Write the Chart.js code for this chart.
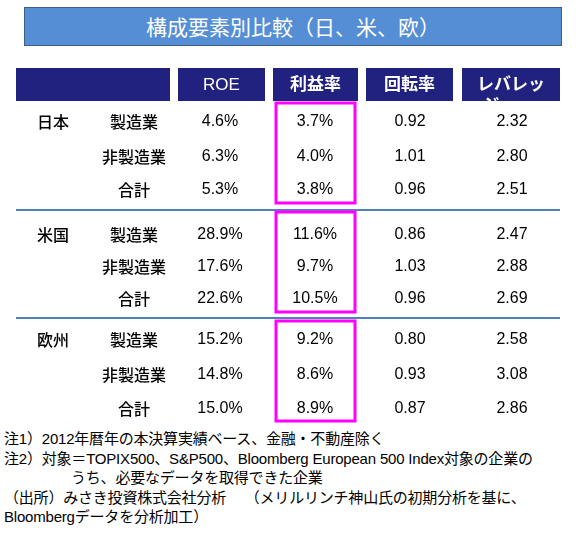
<!DOCTYPE html>
<html><head><meta charset="utf-8">
<script src="https://cdn.jsdelivr.net/npm/chart.js@4"></script>
<style>
body{margin:0;width:576px;height:533px;background:#fff;position:relative;overflow:hidden;font-family:"Liberation Sans","Noto Sans CJK JP",sans-serif;}
#title{position:absolute;left:24px;top:7px;width:536px;height:37px;background:#558ED5;border:1.5px solid #3B5E8C;color:#fff;font:21px "Noto Sans CJK JP";text-align:center;line-height:37px;}
#cv{position:absolute;left:0;top:60px;}
#notes{position:absolute;left:4px;top:429px;font:15px/19.6px "Liberation Sans","Noto Sans CJK JP";color:#000;white-space:pre;letter-spacing:-0.2px;}
</style></head><body>
<div id="title">構成要素別比較（日、米、欧）</div>
<canvas id="cv" width="576" height="367"></canvas>
<div id="notes">注1）2012年暦年の本決算実績ベース、金融・不動産除く
注2）対象＝TOPIX500、S&amp;P500、Bloomberg European 500 Index対象の企業の
<span style="padding-left:67px">うち、必要なデータを取得できた企業</span>
（出所）みさき投資株式会社分析　 （メリルリンチ神山氏の初期分析を基に、
Bloombergデータを分析加工）</div>
<script>
const headers=['ROE','利益率','回転率','レバレッジ'];
const regions=['日本','米国','欧州'];
const sectors=['製造業','非製造業','合計'];
const roe=[4.6,6.3,5.3,28.9,17.6,22.6,15.2,14.8,15.0];
const margin=[3.7,4.0,3.8,11.6,9.7,10.5,9.2,8.6,8.9];
const turnover=[0.92,1.01,0.96,0.86,1.03,0.96,0.80,0.93,0.87];
const leverage=[2.32,2.80,2.51,2.47,2.88,2.69,2.58,3.08,2.86];

// layout (page pixels)
const colX=[220,315,410,512];
const hdrCells=[[16,170],[178,265],[273,358],[366,453],[462,560]];
const rowY=[122,157,190,235,267,299,340,375,409];
const seps=[210,318];
const boxes=[[103,203],[212,312],[321,421]];

const tablePlugin={id:'table',afterDraw(c){
 const ctx=c.ctx,xs=c.scales.x,ys=c.scales.y;
 const X=v=>xs.getPixelForValue(v),Y=v=>ys.getPixelForValue(v);
 ctx.save();
 ctx.fillStyle='#21217F';
 hdrCells.forEach(([a,b])=>ctx.fillRect(X(a),Y(68),X(b)-X(a),Y(101)-Y(68)));
 ctx.fillStyle='#fff';ctx.textAlign='center';ctx.textBaseline='middle';
 headers.forEach((h,i)=>{
  const cx=(X(hdrCells[i+1][0])+X(hdrCells[i+1][1]))/2;
  ctx.font=(i==0?'':'bold ')+'17px "Liberation Sans","Noto Sans CJK JP"';
  if(h==='レバレッジ'){
   ctx.save();ctx.beginPath();ctx.rect(X(462),Y(68),X(560)-X(462),Y(101)-Y(68));ctx.clip();
   ctx.fillText('レバレッ',cx,Y(85));ctx.fillText('ジ',cx-20,Y(106));ctx.restore();
  } else ctx.fillText(h,cx,Y(85));
 });
 ctx.strokeStyle='#4F81BD';ctx.lineWidth=2;
 seps.forEach(s=>{ctx.beginPath();ctx.moveTo(X(16),Y(s));ctx.lineTo(X(560),Y(s));ctx.stroke();});
 ctx.fillStyle='#000';
 rowY.forEach((ry,i)=>{
  const y=Y(ry);
  if(i%3===0){ctx.font='500 16px "Noto Sans CJK JP"';ctx.fillText(regions[i/3],X(53),y);}
  ctx.font='500 16px "Noto Sans CJK JP"';ctx.fillText(sectors[i%3],X(134),y);
  ctx.font='16px "Liberation Sans"';
  ctx.fillText(roe[i].toFixed(1)+'%',X(colX[0]),y);
  ctx.fillText(margin[i].toFixed(1)+'%',X(colX[1]),y);
  ctx.fillText(turnover[i].toFixed(2),X(colX[2]),y);
  ctx.fillText(leverage[i].toFixed(2),X(colX[3]),y);
 });
 ctx.strokeStyle='#FF00FF';ctx.lineWidth=3;
 boxes.forEach(([a,b])=>ctx.strokeRect(X(276),Y(a),X(355)-X(276),Y(b)-Y(a)));
 ctx.restore();
}};

new Chart(document.getElementById('cv'),{
 type:'scatter',
 data:{datasets:[{data:[],pointRadius:0}]},
 options:{responsive:false,animation:false,devicePixelRatio:1,
  layout:{padding:0},
  plugins:{legend:{display:false},tooltip:{enabled:false}},
  scales:{x:{type:'linear',min:0,max:576,display:false},
          y:{type:'linear',min:60,max:427,reverse:true,display:false}}},
 plugins:[tablePlugin]
});
</script></body></html>
